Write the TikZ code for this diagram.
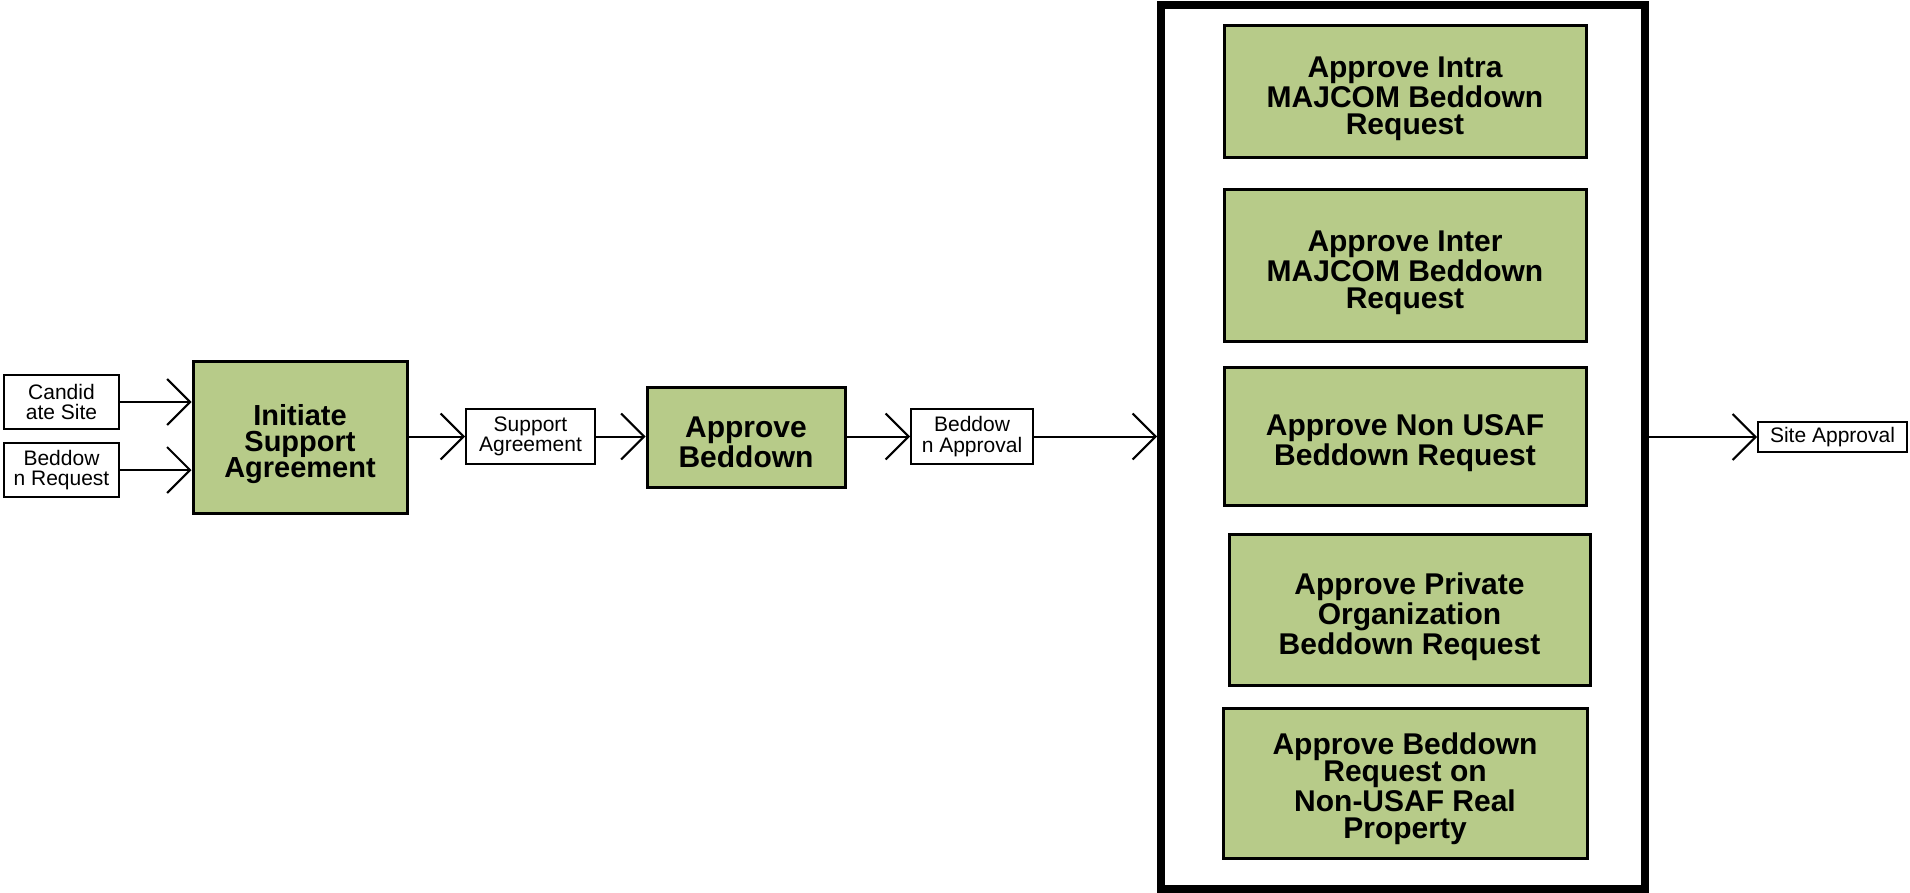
\documentclass[tikz,border=0pt]{standalone}
\usepackage{fontspec}
\setmainfont{Liberation Sans}
\usetikzlibrary{arrows.meta}
\definecolor{boxgreen}{RGB}{183,203,137}
\begin{document}
\begin{tikzpicture}[x=0.5pt,y=-0.5pt,
  greenbox/.style={draw=black,fill=boxgreen,line width=1.5pt,inner sep=0pt},
  gtext/.style={inner sep=0pt,align=center,font=\fontsize{15pt}{13.5pt}\selectfont\bfseries},
  databox/.style={draw=black,fill=white,line width=1pt,inner sep=0pt,align=center,
    font=\fontsize{10.5pt}{10.3pt}\selectfont},
  flow/.style={line width=1pt,-{Straight Barb[length=11.5pt,width=23pt]}}]
\useasboundingbox (0,0) rectangle (1910,893);
% inputs
\node[databox,minimum width=57.5pt,minimum height=27pt] (cand) at (61.5,402) {Candid\\ate Site};
\node[databox,minimum width=57.5pt,minimum height=27pt] (breq) at (61.5,470) {Beddow\\n Request};
\node[greenbox,minimum width=107pt,minimum height=76pt] (isa) at (300,437) {};
\node[gtext,font=\fontsize{14.5pt}{13.2pt}\selectfont\bfseries] (isat) at ([yshift=-3.5pt]isa.center) {Initiate\\Support\\Agreement};
\node[databox,minimum width=64.5pt,minimum height=27.5pt] (sa) at (530.5,436.5) {Support\\Agreement};
\node[greenbox,minimum width=99pt,minimum height=50pt] (ab) at (746,437) {};
\node[gtext] (abt) at ([yshift=-2.5pt]ab.center) {Approve\\Beddown};
\node[databox,minimum width=61pt,minimum height=27.5pt] (ba) at (972,436.5) {Beddow\\n Approval};
% frame
\node[draw=black,line width=4pt,minimum width=242pt,minimum height=442pt,inner sep=0pt] (frame) at (1403,447) {};
\node[greenbox,minimum width=181pt,minimum height=66pt] (b1) at (1405,92) {};
\node[gtext] (b1t) at ([yshift=-3.5pt]b1.center) {Approve Intra\\MAJCOM Beddown\\Request};
\node[greenbox,minimum width=181pt,minimum height=75.5pt] (b2) at (1405,265.5) {};
\node[gtext] (b2t) at ([yshift=-3.5pt]b2.center) {Approve Inter\\MAJCOM Beddown\\Request};
\node[greenbox,minimum width=181pt,minimum height=69pt] (b3) at (1405,436) {};
\node[gtext] (b3t) at ([yshift=-3.5pt]b3.center) {Approve Non USAF\\Beddown Request};
\node[greenbox,minimum width=180.5pt,minimum height=75.5pt] (b4) at (1409.5,609.5) {};
\node[gtext] (b4t) at ([yshift=-3.5pt]b4.center) {Approve Private\\Organization\\Beddown Request};
\node[greenbox,minimum width=182pt,minimum height=75pt] (b5) at (1405,783) {};
\node[gtext] (b5t) at ([yshift=-3pt]b5.center) {Approve Beddown\\Request on\\Non-USAF Real\\Property};
\node[databox,minimum width=74.5pt,minimum height=15pt] (sap) at (1832.5,437) {Site Approval};
% connectors
\draw[flow] (cand.east) -- (cand.east -| isa.west);
\draw[flow] (breq.east) -- (breq.east -| isa.west);
\draw[flow] (isa.east |- sa.west) -- (sa.west);
\draw[flow] (sa.east) -- (sa.east -| ab.west);
\draw[flow] (ab.east |- ba.west) -- (ba.west);
\draw[flow] (ba.east) -- (ba.east -| frame.west);
\draw[flow] (frame.east |- sap.west) -- (sap.west);
\end{tikzpicture}
\end{document}
